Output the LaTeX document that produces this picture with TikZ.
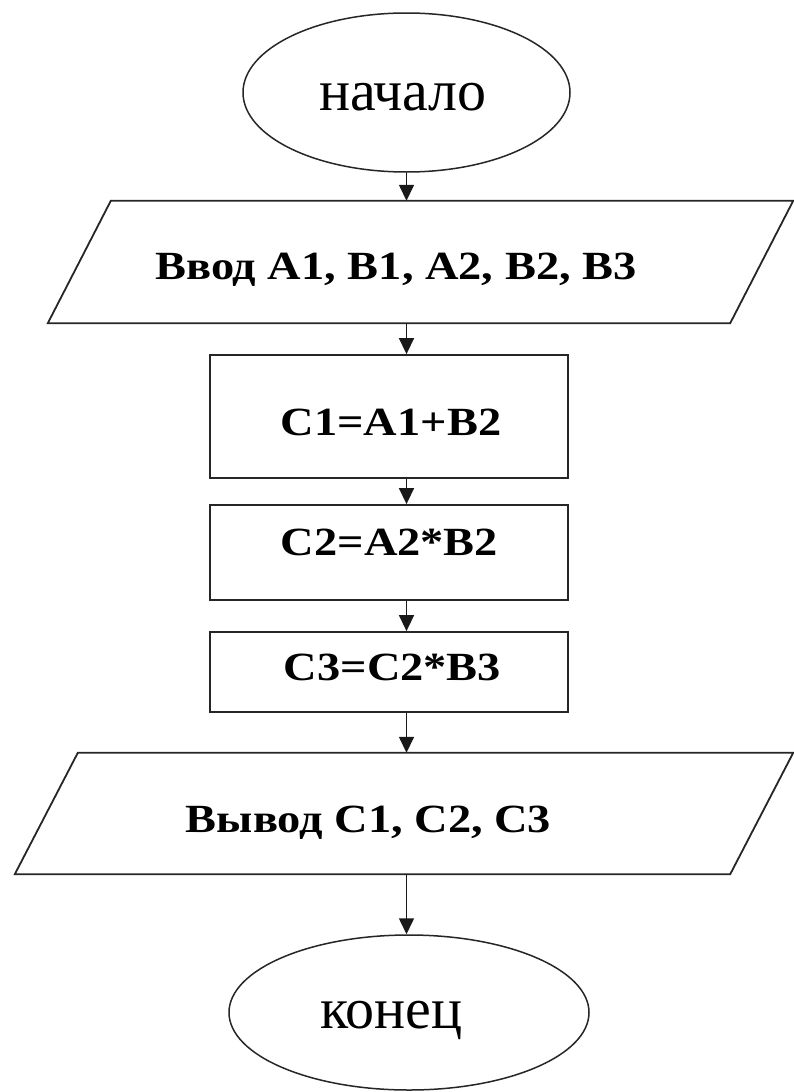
\documentclass[tikz,border=0pt]{standalone}
\usepackage{fontspec}
\setmainfont{Liberation Serif}
\newfontfamily\wordfont{Liberation Serif}
\newfontfamily\labelfont[FakeStretch=1.16,BoldFont={Liberation Serif Bold}]{Liberation Serif}
\usetikzlibrary{shapes.geometric,arrows.meta}

\begin{document}
\begin{tikzpicture}[x=1pt,y=-1pt,
  line/.style={draw=black!85,line width=1.8pt},
  term/.style={draw=black!85,line width=1.5pt,ellipse,inner sep=0pt},
  proc/.style={line,rectangle,inner sep=0pt},
  frame/.style={rectangle,inner sep=0pt},
  arr/.style={draw=black!90,line width=1.5pt,-{Triangle[length=16pt,width=15pt]}},
  lbl/.style={font=\labelfont\bfseries\fontsize{40}{48}\selectfont,anchor=base,inner sep=0pt},
  word/.style={font=\wordfont\fontsize{58}{64}\selectfont,anchor=base,inner sep=0pt}]
  \useasboundingbox (0,0) rectangle (794,1092);
  \fill[white] (0,0) rectangle (794,1092);

  % terminals and process blocks
  \node[term,minimum width=327pt,minimum height=159pt] (start) at (406.5,92.5) {};
  \node[frame,minimum width=682pt,minimum height=122pt] (inbox) at (420.5,262) {};
  \node[proc,minimum width=358pt,minimum height=123pt] (c1) at (389,416.5) {};
  \node[proc,minimum width=358pt,minimum height=95pt] (c2) at (389,552.5) {};
  \node[proc,minimum width=358pt,minimum height=80pt] (c3) at (389,672) {};
  \node[frame,minimum width=715pt,minimum height=121pt] (outbox) at (404,813.5) {};
  \node[term,minimum width=360pt,minimum height=155pt] (stop) at (409,1012.5) {};

  % input / output parallelograms
  \draw[line] ([xshift=31.5pt]inbox.north west) -- ([xshift=31.5pt]inbox.north east)
    -- ([xshift=-31.5pt]inbox.south east) -- ([xshift=-31.5pt]inbox.south west) -- cycle;
  \draw[line] ([xshift=31.5pt]outbox.north west) -- ([xshift=31.5pt]outbox.north east)
    -- ([xshift=-31.5pt]outbox.south east) -- ([xshift=-31.5pt]outbox.south west) -- cycle;

  % texts
  \node[word] (startlbl) at (403,110) {начало};
  \node[lbl] (inlbl) at (396,279) {Ввод А1, В1, А2, В2, В3};
  \node[lbl] (c1lbl) at (391,435) {C1=A1+B2};
  \node[lbl] (c2lbl) at (389.5,555) {C2=A2*B2};
  \node[lbl] (c3lbl) at (392.5,680) {C3=C2*B3};
  \node[lbl] (outlbl) at (368.5,832) {Вывод С1, С2, С3};
  \node[word] (stoplbl) at (391.5,1028) {конец};

  % flow
  \draw[arr] (start.south) -- (start.south |- inbox.north);
  \draw[arr] (start.south |- inbox.south) -- (start.south |- c1.north);
  \draw[arr] (start.south |- c1.south) -- (start.south |- c2.north);
  \draw[arr] (start.south |- c2.south) -- (start.south |- c3.north);
  \draw[arr] (start.south |- c3.south) -- (start.south |- outbox.north);
  \draw[arr] (start.south |- outbox.south) -- (start.south |- stop.north);
\end{tikzpicture}
\end{document}
